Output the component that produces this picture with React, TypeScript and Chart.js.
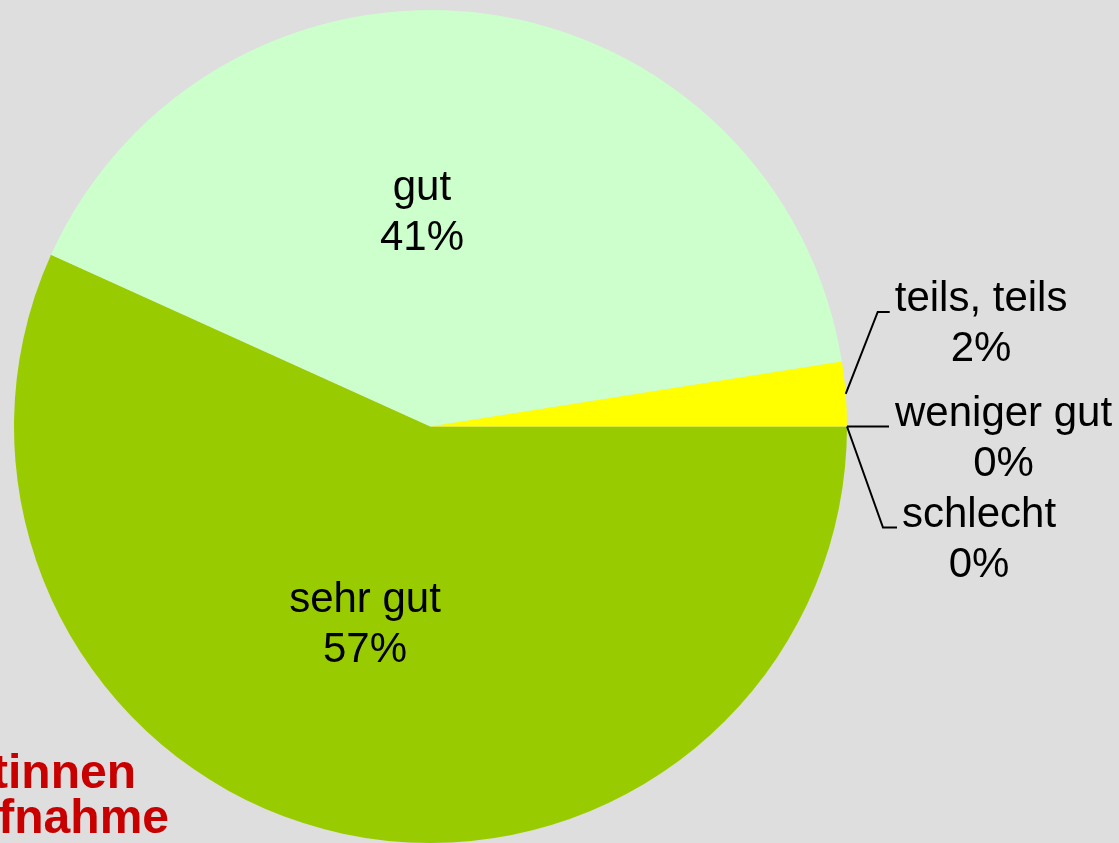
import React, { useEffect, useRef } from "react";
import { Chart, registerables } from "chart.js";

Chart.register(...registerables);

// ---- data ----
const categories = ["sehr gut", "gut", "teils, teils", "weniger gut", "schlecht"];
const shares = [56.76, 40.75, 2.49, 0, 0];
const sliceColors = ["#99cc00", "#ccffcc", "#ffff00", "#ff9900", "#ff0000"];
const footnoteLines = ["tinnen", "fnahme"];

const W = 1119;
const H = 843;
const FONT = '"Liberation Sans", Arial, Helvetica, sans-serif';

// label placement (styling / layout only)
const insideLabelLayout: Record<number, { frac: number; dx: number; dy: number }> = {
  0: { frac: 0.5, dx: -21.6, dy: 6.9 },
  1: { frac: 0.5, dx: -36.4, dy: 4.4 },
};
const outsideLabelLayout: Record<number, { ex: number; ey: number; h: number; gap: number }> = {
  2: { ex: 32, ey: -82, h: 12, gap: 5 },
  3: { ex: 40, ey: 0, h: 2, gap: 6 },
  4: { ex: 36, ey: 101, h: 14, gap: 5 },
};

const labelPlugin = {
  id: "pieLabels",
  afterDatasetsDraw(chart: any) {
    const ctx: CanvasRenderingContext2D = chart.ctx;
    const meta = chart.getDatasetMeta(0);
    const data: number[] = chart.data.datasets[0].data;
    const total = data.reduce((a, b) => a + b, 0);
    ctx.save();
    ctx.font = `42px ${FONT}`;
    ctx.fillStyle = "#000000";
    ctx.textBaseline = "alphabetic";
    const lineH = 50;
    meta.data.forEach((arc: any, i: number) => {
      const p = arc.getProps(["x", "y", "startAngle", "endAngle", "outerRadius"], true);
      const mid = (p.startAngle + p.endAngle) / 2;
      const pct = Math.round((data[i] / total) * 100) + "%";
      const lines = [chart.data.labels[i], pct];
      if (insideLabelLayout[i]) {
        const L = insideLabelLayout[i];
        const cx = p.x + Math.cos(mid) * p.outerRadius * L.frac + L.dx;
        const cy = p.y + Math.sin(mid) * p.outerRadius * L.frac + L.dy;
        ctx.textAlign = "center";
        ctx.fillText(lines[0], cx, cy - lineH / 2);
        ctx.fillText(lines[1], cx, cy + lineH / 2);
      } else if (outsideLabelLayout[i]) {
        const L = outsideLabelLayout[i];
        const ax = p.x + Math.cos(mid) * p.outerRadius;
        const ay = p.y + Math.sin(mid) * p.outerRadius;
        const bx = ax + L.ex;
        const by = ay + L.ey;
        const cx2 = bx + L.h;
        ctx.beginPath();
        ctx.strokeStyle = "#000000";
        ctx.lineWidth = 2;
        ctx.moveTo(ax, ay);
        ctx.lineTo(bx, by);
        ctx.lineTo(cx2, by);
        ctx.stroke();
        const left = cx2 + L.gap;
        const wMax = Math.max(...lines.map((t: string) => ctx.measureText(t).width));
        ctx.textAlign = "center";
        ctx.fillText(lines[0], left + wMax / 2, by - 1);
        ctx.fillText(lines[1], left + wMax / 2, by - 1 + lineH);
      }
    });
    // partially visible footnote text at lower left
    ctx.font = `bold 48px ${FONT}`;
    ctx.fillStyle = "#c80000";
    ctx.textAlign = "right";
    ctx.fillText(footnoteLines[0], 136, 788);
    ctx.fillText(footnoteLines[1], 169, 833);
    ctx.restore();
  },
};

export default function App() {
  const ref = useRef<HTMLCanvasElement | null>(null);
  useEffect(() => {
    document.body.style.margin = "0";
    document.body.style.overflow = "hidden";
    if (!ref.current) return;
    const chart = new Chart(ref.current, {
      type: "pie",
      data: {
        labels: categories,
        datasets: [
          {
            data: shares,
            backgroundColor: sliceColors,
            borderWidth: 0,
            hoverOffset: 0,
          },
        ],
      },
      options: {
        animation: false,
        responsive: false,
        rotation: 90,
        layout: { padding: { left: 14, top: 10, right: 272, bottom: 0 } },
        plugins: {
          legend: { display: false },
          tooltip: { enabled: false },
          title: { display: false },
        },
        events: [],
      },
      plugins: [labelPlugin],
    });
    return () => chart.destroy();
  }, []);
  return (
    <div
      style={{
        position: "absolute",
        left: 0,
        top: 0,
        width: W,
        height: H,
        background: "#dedede",
        overflow: "hidden",
      }}
    >
      <canvas ref={ref} width={W} height={H} style={{ display: "block", width: W, height: H }} />
    </div>
  );
}
